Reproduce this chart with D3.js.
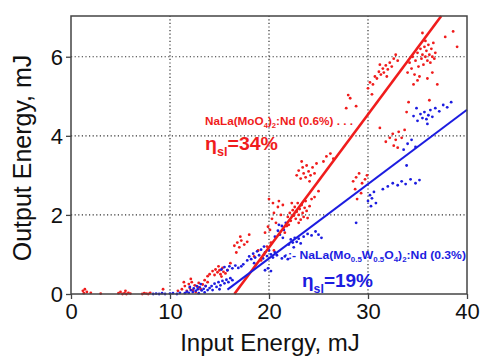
<!DOCTYPE html>
<html>
<head>
<meta charset="utf-8">
<script src="https://cdn.jsdelivr.net/npm/d3@7"></script>
<style>
  body { margin: 0; background: #fff; }
  svg { display: block; font-family: Arial, "Liberation Sans", sans-serif; }
</style>
</head>
<body>
<div id="chart"></div>
<script>
// axis setup
const xTicks = [0, 10, 20, 30, 40];
const yTicks = [0, 2, 4, 6];
const xGrid = [10, 20, 30];
const yGrid = [2, 4, 6];

// fitted slope lines: [x, y] end points
const redFit = [[16.5, 0], [37.4, 7.03]];
const blueFit = [[15.8, 0.11], [40, 4.66]];

// NaLa(MoO4)2:Nd (0.6%) measurements
const redPoints = [
  [1.2,0.08],[1.4,0.12],[1.6,0.05],[1.3,0.02],[2.0,0.03],[3.0,0.01],[4.8,0.02],[5.0,0.05],[5.2,0.0],[5.4,0.02],
  [5.6,0.0],[5.8,0.03],[6.0,0.01],[5.5,0.08],[7.2,0.0],[7.4,0.02],[7.6,0.01],[7.8,0.0],[8.0,0.03],[9.3,0.12],[10.8,0.08],
  [11.2,0.12],[11.5,0.2],[11.7,0.08],[11.9,0.25],[12.0,0.15],[12.2,0.3],[12.3,0.1],[12.5,0.22],[12.6,0.05],[12.8,0.18],
  [12.9,0.28],[13.1,0.12],[13.3,0.24],[13.5,0.35],[13.6,0.2],[11.4,0.3],[12.1,0.38],[13.8,0.3],
  [14.0,0.5],[14.3,0.58],[14.5,0.48],[14.6,0.62],[14.8,0.55],[15.0,0.6],[15.1,0.5],[15.3,0.66],[15.4,0.56],[15.6,0.52],
  [15.8,0.6],[14.9,0.7],[15.2,0.44],[16.1,0.78],[13.8,0.45],
  [16.5,1.22],[16.8,1.3],[17.0,1.18],[17.2,1.35],[17.5,1.25],[17.8,1.32],[17.1,1.45],[18.0,1.5],[16.7,1.05],
  [18.5,0.95],[18.9,1.1],[19.2,0.85],[19.5,1.0],[19.8,1.2],[20.2,1.3],[20.5,1.1],
  [19.6,1.55],[19.9,1.7],[20.1,1.62],[20.3,1.9],[20.5,2.05],[20.7,1.8],[20.9,2.2],[21.0,2.35],[21.2,2.0],[21.4,2.25],
  [20.0,2.4],[20.4,2.3],[21.6,1.55],[21.8,1.72],
  [21.9,1.95],[22.1,2.05],[22.2,1.85],[22.4,2.12],[22.5,1.98],[22.6,2.2],[22.7,1.9],[22.8,2.08],[22.9,2.3],[23.0,2.0],
  [23.1,2.15],[23.2,1.88],[23.3,2.25],[23.4,2.05],[23.5,1.95],[23.6,2.18],[23.7,2.35],[23.8,2.1],[23.9,1.92],[24.1,2.22],
  [22.3,2.3],[23.0,1.8],[24.3,2.4],[24.6,2.45],[25.0,2.6],[22.0,1.75],
  [22.8,3.0],[23.0,3.12],[23.2,2.92],[23.4,3.2],[23.5,3.05],[23.7,2.95],[23.8,3.25],[24.0,3.1],[24.2,3.0],[24.4,3.2],
  [24.6,3.05],[24.8,3.3],[23.3,3.35],[24.1,2.85],
  [25.8,3.48],[26.2,3.55],[26.5,3.42],[25.5,3.35],
  [28.0,5.03],[28.2,4.95],[28.8,4.75],[27.8,4.7],
  [28.5,2.85],[28.8,2.95],[29.1,3.05],[29.4,2.8],[29.7,2.9],[28.7,2.65],[29.9,3.0],[28.9,2.4],[29.3,2.55],
  [30.0,5.2],[30.2,5.35],[30.5,5.3],[30.7,5.5],[30.9,5.45],[31.1,5.62],[31.3,5.55],[31.5,5.7],[31.6,5.6],[31.8,5.78],
  [32.0,5.68],[32.2,5.85],[32.4,5.75],[32.6,5.95],[31.2,5.8],[30.4,5.05],[32.8,6.05],[33.0,5.9],[31.9,5.5],
  [31.8,3.85],[32.2,3.95],[32.5,4.05],[32.8,3.9],[33.1,4.1],[33.4,3.95],[33.7,4.15],[32.6,3.75],[33.0,3.7],[31.2,4.2],
  [33.9,4.6],[34.1,4.85],
  [34.0,5.6],[34.2,5.85],[34.4,5.7],[34.5,6.0],[34.7,5.55],[34.8,5.9],[35.0,6.1],[35.1,5.75],[35.3,6.2],[35.4,5.95],
  [35.5,6.05],[35.6,5.8],[35.7,6.25],[35.8,6.0],[35.9,6.15],[36.0,5.9],[36.1,6.3],[36.2,6.05],[36.3,5.85],[36.4,6.2],
  [36.5,6.0],[36.6,6.35],[36.7,5.95],[36.8,6.1],[35.2,5.5],[36.0,5.45],[36.5,5.6],[34.6,5.3],[35.8,6.4],[35.0,5.4],
  [38.6,6.64],[39.0,6.25],[37.8,6.5],[35.5,6.6],[37.0,5.3],[36.2,4.9]
];

// NaLa(Mo0.5W0.5O4)2:Nd (0.3%) measurements
const bluePoints = [
  [8.3,0.0],[8.6,0.01],[8.9,0.0],[9.2,0.02],[9.5,0.0],[10.0,0.01],[10.3,0.02],[10.7,0.0],[11.0,0.03],
  [11.5,0.02],[11.7,0.06],[11.9,0.03],[12.1,0.1],[12.3,0.05],[12.4,0.14],[12.6,0.08],[12.8,0.12],[12.9,0.02],[13.0,0.17],
  [13.2,0.09],[13.4,0.13],[13.5,0.04],[13.6,0.2],[13.8,0.1],[14.0,0.15],[12.0,0.18],[13.1,0.25],[12.7,0.2],
  [14.2,0.2],[14.5,0.26],[14.7,0.18],[14.9,0.3],[15.1,0.22],[15.3,0.33],[15.5,0.27],[15.7,0.36],[15.9,0.3],[16.1,0.4],
  [16.3,0.35],[14.3,0.1],[15.0,0.12],
  [15.2,0.62],[15.5,0.68],[15.8,0.6],[16.0,0.7],[16.3,0.65],[16.6,0.72],[16.9,0.66],[17.2,0.7],[17.4,0.75],
  [17.8,0.85],[18.0,0.95],[18.2,0.88],[18.4,1.02],[18.6,0.92],[18.8,1.08],[19.0,0.98],[19.2,1.12],[19.4,0.9],[19.6,1.05],
  [19.8,0.96],[20.0,1.1],[20.2,1.0],[20.4,0.92],[20.6,1.05],[20.8,0.98],[18.5,0.78],[19.5,1.2],
  [19.6,0.6],[19.9,0.65],[20.2,0.58],
  [20.6,1.45],[20.9,1.6],[21.1,1.5],[21.3,1.72],[21.5,1.62],[21.7,1.8],[21.4,1.42],[21.0,1.75],
  [22.0,1.25],[22.2,1.38],[22.4,1.3],[22.6,1.42],[22.8,1.32],[23.0,1.4],[23.2,1.28],[22.5,1.18],
  [23.5,1.45],[23.9,1.52],[24.3,1.48],[24.7,1.58],[25.0,1.5],[25.3,1.42],
  [21.3,0.9],[21.6,0.95],[21.9,0.88],
  [28.8,1.8],
  [30.0,2.35],[30.2,2.5],[30.4,2.42],[30.6,2.58],[30.8,2.3],[30.3,2.22],
  [31.5,2.65],[32.0,2.72],[32.5,2.8],[33.0,2.75],[33.4,2.85],[33.8,2.78],[34.3,2.9],[34.8,2.8],[35.2,2.88],
  [33.6,3.65],[34.0,3.8],[34.4,3.9],[34.8,3.72],[33.9,3.25],
  [34.6,4.5],[35.0,4.38],[35.3,4.55],[35.5,4.45],[35.7,4.6],[35.9,4.42],[36.1,4.52],[36.3,4.65],[36.5,4.48],[36.8,4.7],
  [37.2,4.62],[37.6,4.78],[38.0,4.72],[38.4,4.85],[34.9,4.7],[36.0,4.3]
];

const width = 481, height = 358;
const margin = { top: 16, right: 14, bottom: 64, left: 71 };
const red = '#f01c1c';
const blue = '#1c1ce0';

const svg = d3.select('#chart').append('svg')
  .attr('width', width)
  .attr('height', height);

const x = d3.scaleLinear().domain([0, 40]).range([margin.left, width - margin.right]);
const y = d3.scaleLinear().domain([0, 7.03]).range([height - margin.bottom, margin.top]);

// grid
svg.append('g').selectAll('line').data(xGrid).join('line')
  .attr('x1', d => x(d)).attr('x2', d => x(d))
  .attr('y1', y.range()[0]).attr('y2', y.range()[1])
  .attr('stroke', '#333').attr('stroke-width', 1.2).attr('stroke-dasharray', '1.2,2.4');
svg.append('g').selectAll('line').data(yGrid).join('line')
  .attr('y1', d => y(d)).attr('y2', d => y(d))
  .attr('x1', x.range()[0]).attr('x2', x.range()[1])
  .attr('stroke', '#333').attr('stroke-width', 1.2).attr('stroke-dasharray', '1.2,2.4');

// scatter points
const plot = svg.append('g');
plot.selectAll('.rp').data(redPoints).join('circle')
  .attr('class', 'rp')
  .attr('cx', d => x(d[0])).attr('cy', d => y(d[1]))
  .attr('r', 1.4).attr('fill', red);
plot.selectAll('.bp').data(bluePoints).join('circle')
  .attr('class', 'bp')
  .attr('cx', d => x(d[0])).attr('cy', d => y(d[1]))
  .attr('r', 1.4).attr('fill', blue);

// fit lines
const line = d3.line().x(d => x(d[0])).y(d => y(d[1]));
svg.append('path').datum(redFit).attr('d', line)
  .attr('stroke', red).attr('stroke-width', 2.6).attr('fill', 'none');
svg.append('path').datum(blueFit).attr('d', line)
  .attr('stroke', blue).attr('stroke-width', 2).attr('fill', 'none');

// frame
svg.append('rect')
  .attr('x', margin.left).attr('y', margin.top)
  .attr('width', width - margin.left - margin.right)
  .attr('height', height - margin.top - margin.bottom)
  .attr('fill', 'none').attr('stroke', '#444').attr('stroke-width', 1.5);

// axes
const xAxis = svg.append('g')
  .attr('transform', `translate(0,${height - margin.bottom})`)
  .call(d3.axisBottom(x).tickValues(xTicks).tickFormat(d3.format('d')).tickSize(5).tickPadding(4));
const yAxis = svg.append('g')
  .attr('transform', `translate(${margin.left},0)`)
  .call(d3.axisLeft(y).tickValues(yTicks).tickFormat(d3.format('d')).tickSize(5).tickPadding(3));
[xAxis, yAxis].forEach(a => {
  a.select('.domain').remove();
  a.selectAll('line').attr('stroke', '#444').attr('stroke-width', 1.3);
  a.selectAll('text').attr('font-size', 22).attr('fill', '#111')
    .attr('font-family', 'Arial, "Liberation Sans", sans-serif');
});
yAxis.selectAll('text').attr('dy', '0.36em');

svg.append('text')
  .attr('x', 270).attr('y', 351)
  .attr('text-anchor', 'middle')
  .attr('font-size', 24).attr('fill', '#111')
  .text('Input Energy, mJ');
svg.append('text')
  .attr('transform', 'translate(31,158) rotate(-90)')
  .attr('text-anchor', 'middle')
  .attr('font-size', 25).attr('fill', '#111')
  .text('Output Energy, mJ');

// annotations
function label(px, py, color, parts, size, len) {
  const t = svg.append('text')
    .attr('x', px).attr('y', py)
    .attr('fill', color).attr('font-weight', 'bold').attr('font-size', size);
  let shift = 0;
  parts.forEach(p => {
    const s = p.sub ? size * 0.3 : 0;
    t.append('tspan')
      .attr('dy', s - shift)
      .attr('font-size', p.sub ? size * 0.65 : size)
      .text(p.t);
    shift = s;
  });
  if (len) t.attr('textLength', len).attr('lengthAdjust', 'spacingAndGlyphs');
  return t;
}

label(205, 125, red, [
  { t: 'NaLa(MoO' }, { t: '4', sub: true }, { t: ')' }, { t: '2', sub: true }, { t: ':Nd (0.6%) . . .' }
], 10.5, 148);
label(205, 150, red, [
  { t: 'η' }, { t: 'sl', sub: true }, { t: '=34%' }
], 19, 73);

label(284, 259, blue, [
  { t: '·:- NaLa(Mo' }, { t: '0.5', sub: true }, { t: 'W' }, { t: '0.5', sub: true }, { t: 'O' }, { t: '4', sub: true },
  { t: ')' }, { t: '2', sub: true }, { t: ':Nd (0.3%)' }
], 10.5, 182);
label(302, 287, blue, [
  { t: 'η' }, { t: 'sl', sub: true }, { t: '=19%' }
], 19, 71);
</script>
</body>
</html>
